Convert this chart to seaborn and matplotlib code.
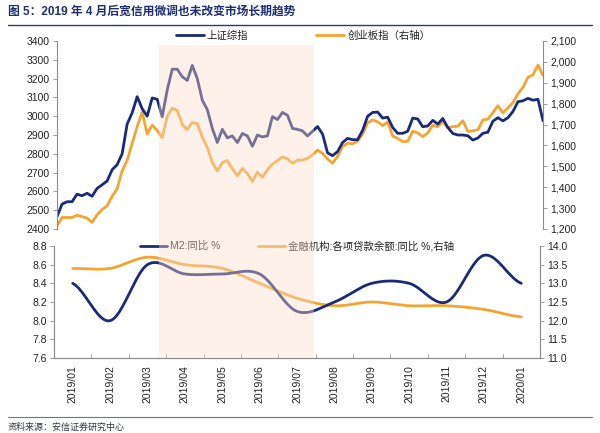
import numpy as np
import pandas as pd
import matplotlib
matplotlib.use("Agg")
import matplotlib.pyplot as plt
import matplotlib.dates as mdates
import matplotlib.ticker as mticker
from matplotlib.lines import Line2D
from matplotlib.patches import Rectangle
from matplotlib.transforms import blended_transform_factory
import seaborn as sns

# ---- data ----
# 上证综指 / 创业板指, sampled evenly from 2019-01-02 to 2020-01-23
start_day, end_day = "2019-01-02", "2020-01-23"
sh_index = [2465, 2532, 2545, 2545, 2585, 2577, 2590, 2574, 2616, 2635,
            2655, 2715, 2742, 2800, 2958, 3018, 3104, 3040, 3000, 3097,
            3090, 2997, 3140, 3250, 3250, 3210, 3190, 3270, 3200, 3085,
            3035, 2935, 2860, 2930, 2885, 2895, 2860, 2908, 2895, 2840,
            2900, 2890, 2895, 2998, 2982, 3020, 3005, 2935, 2930, 2922,
            2895, 2920, 2945, 2905, 2805, 2790, 2812, 2860, 2882, 2875,
            2875, 2925, 3000, 3020, 3022, 2990, 2995, 2940, 2909, 2909,
            2920, 2990, 2985, 2944, 2948, 2978, 2958, 2988, 2940, 2908,
            2900, 2900, 2896, 2873, 2884, 2909, 2915, 2973, 2992, 2975,
            2992, 3025, 3077, 3082, 3095, 3085, 3090, 2976]
cyb_index = [1215, 1255, 1255, 1255, 1266, 1259, 1252, 1232, 1268, 1293,
             1311, 1357, 1392, 1478, 1528, 1610, 1690, 1760, 1655, 1697,
             1672, 1636, 1740, 1778, 1768, 1700, 1676, 1710, 1704, 1640,
             1590, 1518, 1478, 1518, 1528, 1488, 1455, 1490, 1465, 1428,
             1472, 1448, 1484, 1510, 1528, 1545, 1536, 1514, 1530, 1530,
             1538, 1555, 1578, 1562, 1535, 1515, 1548, 1595, 1611, 1608,
             1620, 1655, 1708, 1722, 1713, 1695, 1712, 1645, 1634, 1618,
             1620, 1668, 1660, 1642, 1660, 1697, 1690, 1713, 1685, 1690,
             1692, 1718, 1667, 1670, 1675, 1722, 1726, 1757, 1790, 1756,
             1780, 1805, 1847, 1878, 1926, 1938, 1985, 1935]

# monthly money & credit
months = ["2019/01", "2019/02", "2019/03", "2019/04", "2019/05", "2019/06",
          "2019/07", "2019/08", "2019/09", "2019/10", "2019/11", "2019/12",
          "2020/01"]
m2_yoy = [8.4, 8.0, 8.6, 8.5, 8.5, 8.5, 8.1, 8.2, 8.4, 8.4, 8.2, 8.7, 8.4]
loan_yoy = [13.4, 13.4, 13.7, 13.5, 13.4, 13.0, 12.6, 12.4, 12.5, 12.4,
            12.4, 12.3, 12.1]

# highlighted window
shade_start, shade_end = "2019-03-24", "2019-07-25"

title = "图 5：2019 年 4 月后宽信用微调也未改变市场长期趋势"
source = "资料来源：安信证券研究中心"

# ---- style ----
sns.set_theme(style="white")
plt.rcParams["font.family"] = ["Liberation Sans", "Noto Sans CJK SC"]
plt.rcParams["font.size"] = 7.5
plt.rcParams["axes.unicode_minus"] = False

NAVY = "#1b2a78"
ORANGE = "#f3a431"
GREY = "#8c8c8c"
TXT = "#222222"


def smooth(y, n=24):
    # Catmull-Rom style curve through the monthly points (like Excel smoothing)
    y = np.asarray(y, dtype=float)
    xs, ys = [], []
    for i in range(len(y) - 1):
        p0 = y[i - 1] if i > 0 else y[i]
        p1, p2 = y[i], y[i + 1]
        p3 = y[i + 2] if i + 2 < len(y) else y[i + 1]
        m1, m2 = (p2 - p0) / 2, (p3 - p1) / 2
        t = np.linspace(0, 1, n, endpoint=False)
        h00 = 2 * t**3 - 3 * t**2 + 1
        h10 = t**3 - 2 * t**2 + t
        h01 = -2 * t**3 + 3 * t**2
        h11 = t**3 - t**2
        xs.append(i + t)
        ys.append(h00 * p1 + h10 * m1 + h01 * p2 + h11 * m2)
    xs.append([len(y) - 1])
    ys.append([y[-1]])
    return np.concatenate(xs), np.concatenate(ys)


fig = plt.figure(figsize=(6, 4.33), dpi=100)
W, H = 600, 433

# ---- top panel: indices ----
ax1 = fig.add_axes([57 / W, 1 - 229 / H, 486 / W, 188 / H])
ax1.set_facecolor("none")
ax1b = ax1.twinx()

top = pd.DataFrame({
    "date": pd.date_range(start_day, end_day, periods=len(sh_index)),
    "sh": sh_index,
    "cyb": cyb_index,
})
sns.lineplot(data=top, x="date", y="cyb", ax=ax1b, color=ORANGE, lw=2.0)
sns.lineplot(data=top, x="date", y="sh", ax=ax1, color=NAVY, lw=2.0)
ax1.set_zorder(ax1b.get_zorder() + 1)

ax1.set_xlim(top["date"].iloc[0], top["date"].iloc[-1])
ax1.set_ylim(2400, 3400)
ax1.yaxis.set_major_locator(mticker.MultipleLocator(100))
ax1b.set_ylim(1200, 2100)
ax1b.yaxis.set_major_locator(mticker.MultipleLocator(100))
ax1b.yaxis.set_major_formatter(mticker.FuncFormatter(lambda v, _: f"{v:,.0f}"))
for a in (ax1, ax1b):
    a.set_xlabel("")
    a.set_ylabel("")
    a.set_xticks([])
    for s in ("top", "bottom"):
        a.spines[s].set_visible(False)
    for s in ("left", "right"):
        a.spines[s].set_color(GREY)
        a.spines[s].set_linewidth(0.8)
ax1.spines["right"].set_visible(False)
ax1b.spines["left"].set_visible(False)
ax1.tick_params(axis="y", length=3, width=0.6, color=GREY, pad=2,
                labelcolor=TXT, labelsize=7.5, left=True)
ax1b.tick_params(axis="y", length=3, width=0.6, color=GREY, pad=2,
                 labelcolor=TXT, labelsize=7.5, right=True)

h_top = [Line2D([], [], color=NAVY, lw=2.0), Line2D([], [], color=ORANGE, lw=2.0)]
fig.legend(h_top, ["上证综指", "创业板指（右轴）"], loc="center",
           bbox_to_anchor=(303 / W, 1 - 36 / H), ncol=2, frameon=False,
           handlelength=2.7, handletextpad=0.3, columnspacing=6.5,
           fontsize=7.5, labelcolor=TXT)

# ---- bottom panel: M2 & loans ----
ax2 = fig.add_axes([54 / W, 1 - 358 / H, 486 / W, 112 / H])
ax2.set_facecolor("none")
ax2b = ax2.twinx()

mx, my = smooth(m2_yoy)
lx, ly = smooth(loan_yoy)
sns.lineplot(x=lx, y=ly, ax=ax2b, color=ORANGE, lw=2.0, sort=False)
sns.lineplot(x=mx, y=my, ax=ax2, color=NAVY, lw=2.0, sort=False)
ax2.set_zorder(ax2b.get_zorder() + 1)

ax2.set_xlim(-0.5, len(months) - 0.5)
ax2.set_ylim(7.6, 8.8)
ax2.yaxis.set_major_locator(mticker.MultipleLocator(0.2))
ax2.yaxis.set_major_formatter(mticker.FormatStrFormatter("%.1f"))
ax2b.set_ylim(11.0, 14.0)
ax2b.yaxis.set_major_locator(mticker.MultipleLocator(0.5))
ax2b.yaxis.set_major_formatter(mticker.FormatStrFormatter("%.1f"))

ax2.set_xticks(range(len(months)))
ax2.set_xticklabels(months, rotation=90, fontsize=7.5, color=TXT)
ax2.set_xticks(np.arange(-0.5, len(months), 1), minor=True)
ax2.tick_params(axis="x", which="major", length=0, pad=5)
ax2.tick_params(axis="x", which="minor", length=3, width=0.6, color=GREY,
                direction="in", bottom=True)
for a in (ax2, ax2b):
    a.set_xlabel("")
    a.set_ylabel("")
    a.spines["top"].set_visible(False)
    for s in ("left", "right", "bottom"):
        a.spines[s].set_color(GREY)
        a.spines[s].set_linewidth(0.8)
ax2.tick_params(axis="y", length=3, width=0.6, color=GREY, pad=2,
                labelcolor=TXT, labelsize=7.5, left=True)
ax2b.tick_params(axis="y", length=3, width=0.6, color=GREY, pad=2,
                 labelcolor=TXT, labelsize=7.5, right=True)

h_bot = [Line2D([], [], color=NAVY, lw=2.0), Line2D([], [], color=ORANGE, lw=2.0)]
fig.legend(h_bot, ["M2:同比 %", "金融机构:各项贷款余额:同比 %,右轴"], loc="center",
           bbox_to_anchor=(297 / W, 1 - 246 / H), ncol=2, frameon=False,
           handlelength=2.6, handletextpad=0.3, columnspacing=3.6,
           fontsize=7.5, labelcolor=TXT)

# ---- highlighted window spanning both panels ----
fig.canvas.draw()
x0 = mdates.date2num(pd.Timestamp(shade_start))
x1 = mdates.date2num(pd.Timestamp(shade_end))
b1 = ax1.get_position()
b2 = ax2.get_position()
trans = blended_transform_factory(ax1.transData, fig.transFigure)
fig.add_artist(Rectangle((x0, b2.y0), x1 - x0, b1.y1 - 4 / H - b2.y0,
                         transform=trans, facecolor=(250 / 255, 220 / 255, 200 / 255),
                         edgecolor="none", alpha=0.4, zorder=20))

# ---- title & source ----
fig.text(8 / W, 1 - 12 / H, title, fontsize=8.5, fontweight="bold",
         color="#1d2f6f", va="center", ha="left")
fig.add_artist(Line2D([8 / W, 592 / W], [1 - 25 / H] * 2, color="#2b3a7a", lw=1.0))
fig.add_artist(Line2D([8 / W, 592 / W], [1 - 417 / H] * 2, color="#6b7590", lw=0.8))
fig.text(8 / W, 1 - 427 / H, source, fontsize=6.5, color="#333344",
         va="center", ha="left", style="italic")

fig.savefig("out.png", dpi=100)
